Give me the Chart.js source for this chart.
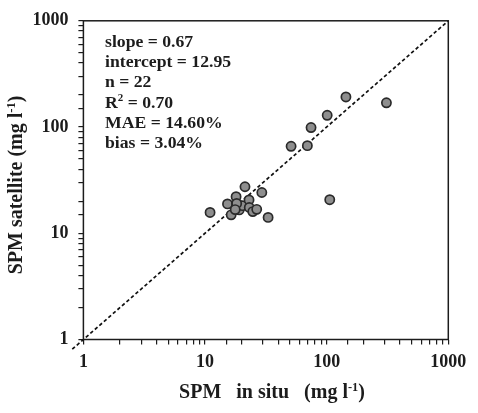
<!DOCTYPE html>
<html>
<head>
<meta charset="utf-8">
<script src="https://cdn.jsdelivr.net/npm/chart.js@4"></script>
<style>
  html, body { margin: 0; padding: 0; background: #fff; }
  #wrap { width: 478px; height: 413px; }
</style>
</head>
<body>
<div id="wrap"><canvas id="chart"></canvas></div>
<script>
// data
const insitu = [11.0, 15.3, 16.4, 18.0, 19.1, 20.3, 21.3, 23.0, 23.1, 24.7, 26.6, 29.3, 33.0, 18.2, 17.7, 144, 310, 101, 74.4, 51, 69.4, 106];
const satellite = [15.7, 18.9, 14.9, 22.1, 16.6, 18.2, 27.4, 20.6, 17.5, 16.0, 16.8, 24.2, 14.1, 19.1, 16.7, 192, 169, 129, 98.9, 65.9, 66.8, 20.7];
const lineEnds = [0.81, 1000];
const axisLabels = [1, 10, 100, 1000];

const statLines = [
  [['slope = 0.67']],
  [['intercept = 12.95']],
  [['n = 22']],
  [['R'], ['2', true], [' = 0.70']],
  [['MAE = 14.60%']],
  [['bias = 3.04%']],
];
const xTitle = [['SPM   in situ   (mg l'], ['-1', true], [')']];
const yTitle = [['SPM satellite (mg l'], ['-1', true], [')']];

const INK = '#1c1c1c';
const FONT = '"Liberation Serif"';

// text with superscripts, anchored on the left
function runsWidth(ctx, runs, size) {
  let w = 0;
  runs.forEach(([t, sup]) => {
    ctx.font = `bold ${sup ? size * 0.62 : size}px ${FONT}`;
    w += ctx.measureText(t).width;
  });
  return w;
}

function drawRuns(ctx, runs, x, y, size) {
  runs.forEach(([t, sup]) => {
    ctx.font = `bold ${sup ? size * 0.62 : size}px ${FONT}`;
    ctx.fillText(t, x, sup ? y - size * 0.36 : y);
    x += ctx.measureText(t).width;
  });
}

const decorations = {
  id: 'decorations',
  afterDraw(chart) {
    const { ctx, chartArea: a } = chart;
    ctx.save();
    ctx.strokeStyle = INK;
    ctx.lineWidth = 1.5;
    ctx.strokeRect(a.left, a.top, a.right - a.left, a.bottom - a.top);

    ctx.fillStyle = INK;
    ctx.textBaseline = 'alphabetic';
    ctx.textAlign = 'left';
    statLines.forEach((runs, i) => drawRuns(ctx, runs, 105, 47 + i * 20.2, 17.7));

    drawRuns(ctx, xTitle, 272 - runsWidth(ctx, xTitle, 20) / 2, 398, 20);

    ctx.translate(22, 185);
    ctx.rotate(-Math.PI / 2);
    drawRuns(ctx, yTitle, -runsWidth(ctx, yTitle, 20) / 2, 0, 20);
    ctx.restore();
  },
};

const logAxis = (position, fit) => ({
  type: 'logarithmic',
  position,
  min: 1,
  max: 1000,
  afterFit: fit,
  border: { display: false },
  grid: { drawOnChartArea: false, drawTicks: true, tickLength: 5, color: INK, lineWidth: 1.2 },
  ticks: {
    autoSkip: false,
    maxRotation: 0,
    padding: position === 'left' ? 10 : 7,
    color: INK,
    font: { family: FONT, size: 18, weight: 'bold' },
    callback: v => axisLabels.includes(v) ? String(v) : '',
  },
});

new Chart(document.getElementById('chart').getContext('2d'), {
  type: 'scatter',
  data: {
    datasets: [
      {
        type: 'line',
        data: lineEnds.map(v => ({ x: v, y: v })),
        borderColor: '#111',
        borderWidth: 1.7,
        borderDash: [3.5, 2.5],
        pointRadius: 0,
        clip: false,
        order: 2,
      },
      {
        data: insitu.map((x, i) => ({ x, y: satellite[i] })),
        backgroundColor: '#8e8e8e',
        borderColor: '#2a2a2a',
        borderWidth: 1.7,
        pointRadius: 4.6,
        order: 1,
      },
    ],
  },
  options: {
    responsive: true,
    maintainAspectRatio: false,
    animation: false,
    layout: { padding: { top: 17, right: 29.7, bottom: 0, left: 0 } },
    plugins: { legend: { display: false }, tooltip: { enabled: false } },
    scales: {
      x: logAxis('bottom', s => { s.height = 73.5; }),
      y: logAxis('left', s => { s.width = 83.4; }),
    },
  },
  plugins: [decorations],
});
</script>
</body>
</html>
